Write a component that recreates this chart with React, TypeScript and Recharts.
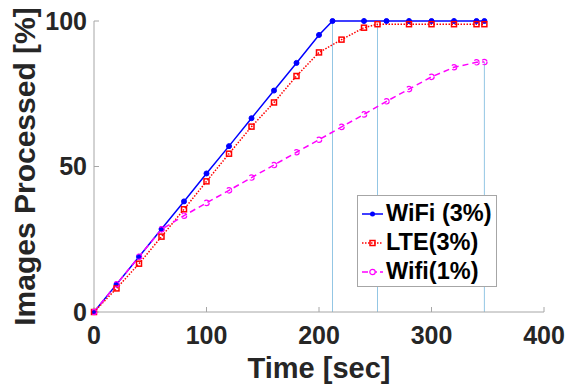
import React from 'react';
import { Legend, Line, LineChart, ReferenceLine, XAxis, YAxis } from 'recharts';

// time [sec] and share of images processed [%]
const wifi3Time = [0, 20, 40, 60, 80, 100, 120, 140, 160, 180, 200, 212, 240, 260, 280, 300, 320, 340, 347];
const wifi3Pct = [0, 9.5, 19, 28.5, 38, 47.6, 57, 66.6, 76.1, 85.6, 95.2, 100, 100, 100, 100, 100, 100, 100, 100];

const lte3Time = [0, 20, 40, 60, 80, 100, 120, 140, 160, 180, 200, 220, 240, 252, 280, 300, 320, 340, 347];
const lte3Pct = [0, 8.1, 16.6, 25.9, 35.3, 44.9, 54.4, 63.7, 72, 81.1, 89.2, 93.6, 97.7, 98.9, 98.9, 98.9, 98.9, 98.9, 98.9];

const wifi1Time = [0, 20, 40, 60, 80, 100, 120, 140, 160, 180, 200, 220, 240, 260, 280, 300, 320, 340, 347];
const wifi1Pct = [0, 9.5, 19, 28.4, 33.1, 37.5, 41.8, 46.2, 50.5, 54.9, 59.2, 63.6, 67.9, 72.4, 76.6, 80.8, 84.1, 85.8, 85.9];

// completion time of each run (drop lines to the axis)
const doneTime = [212, 252, 347];
const donePct = [100, 98.9, 85.9];

const xTicks = [0, 100, 200, 300, 400];
const yTicks = [0, 50, 100];
const seriesNames = ['WiFi (3%)', 'LTE(3%)', 'Wifi(1%)'];

const toRows = (ts: number[], vs: number[]) => ts.map((t, i) => ({ t, v: vs[i] }));
const wifi3 = toRows(wifi3Time, wifi3Pct);
const lte3 = toRows(lte3Time, lte3Pct);
const wifi1 = toRows(wifi1Time, wifi1Pct);

const FONT = '"Liberation Sans", Arial, Helvetica, sans-serif';
const INK = '#262626';
const AXIS = '#a6a6a6';
const DROP = '#93c6e4';

const BLUE = '#0000ff';
const RED = '#ff0000';
const MAGENTA = '#ff00ff';

const RedSquare = (p: any) => (
    <rect
        key={`sq-${p.index}`}
        x={p.cx - 2.5}
        y={p.cy - 2.5}
        width={5}
        height={5}
        fill="none"
        stroke={RED}
        strokeWidth={1.5}
    />
);

const legendIcons = [
    <g>
        <line x1={0} y1={6} x2={21} y2={6} stroke={BLUE} strokeWidth={1.5} />
        <circle cx={10.5} cy={6} r={2.5} fill={BLUE} />
    </g>,
    <g>
        <line x1={0} y1={6} x2={21} y2={6} stroke={RED} strokeWidth={1.5} strokeDasharray="1.5 1.5" />
        <rect x={8} y={3.5} width={5} height={5} fill="none" stroke={RED} strokeWidth={1.5} />
    </g>,
    <g>
        <line x1={0} y1={6} x2={21} y2={6} stroke={MAGENTA} strokeWidth={1.5} strokeDasharray="6 3" />
        <circle cx={10.5} cy={6} r={2.7} fill="#fff" stroke={MAGENTA} strokeWidth={1.2} />
    </g>,
];

const renderLegend = () => (
    <div
        style={{
            border: `1px solid ${AXIS}`,
            background: '#fff',
            padding: '3px 0 0 4px',
            boxSizing: 'border-box',
            width: 140,
            height: 92,
            fontFamily: FONT,
            fontWeight: 'bold',
            fontSize: 23.5,
            color: '#000',
        }}
    >
        {seriesNames.map((name, i) => (
            <div key={name} style={{ display: 'flex', alignItems: 'center', height: 29, whiteSpace: 'nowrap' }}>
                <svg width={23} height={12} style={{ marginRight: 1 }}>
                    {legendIcons[i]}
                </svg>
                <span>{name}</span>
            </div>
        ))}
    </div>
);

export default function App() {
    return (
        <div style={{ position: 'absolute', left: 0, top: 0, background: '#fff' }}>
            <LineChart width={567} height={385} margin={{ top: 21, right: 23, bottom: 0, left: 0 }}>
                <XAxis
                    dataKey="t"
                    type="number"
                    domain={[0, 400]}
                    ticks={xTicks}
                    stroke={AXIS}
                    tickSize={-5}
                    tickMargin={19}
                    height={73}
                    tick={{ fill: INK, fontSize: 25, fontWeight: 'bold', fontFamily: FONT }}
                    label={{
                        value: 'Time [sec]',
                        position: 'insideBottom',
                        offset: 7,
                        style: { fill: INK, fontSize: 29, fontWeight: 'bold', fontFamily: FONT },
                    }}
                />
                <YAxis
                    dataKey="v"
                    type="number"
                    domain={[0, 100]}
                    ticks={yTicks}
                    stroke={AXIS}
                    tickSize={-5}
                    tickMargin={12}
                    width={94}
                    tick={{ fill: INK, fontSize: 25, fontWeight: 'bold', fontFamily: FONT }}
                    label={{
                        value: 'Images Processed [%]',
                        angle: -90,
                        position: 'insideLeft',
                        offset: 24,
                        style: { fill: INK, fontSize: 30, fontWeight: 'bold', fontFamily: FONT, textAnchor: 'middle' },
                    }}
                />
                {doneTime.map((t, i) => (
                    <ReferenceLine
                        key={t}
                        segment={[
                            { x: t, y: 0 },
                            { x: t, y: donePct[i] },
                        ]}
                        stroke={DROP}
                        strokeWidth={1}
                    />
                ))}
                <Line
                    isAnimationActive={false}
                    type="linear"
                    data={wifi3}
                    dataKey="v"
                    name={seriesNames[0]}
                    stroke={BLUE}
                    strokeWidth={1.5}
                    dot={{ r: 2.5, fill: BLUE, stroke: BLUE, strokeWidth: 1 }}
                />
                <Line
                    isAnimationActive={false}
                    type="linear"
                    data={lte3}
                    dataKey="v"
                    name={seriesNames[1]}
                    stroke={RED}
                    strokeWidth={1.5}
                    strokeDasharray="1.5 1.5"
                    dot={RedSquare}
                />
                <Line
                    isAnimationActive={false}
                    type="linear"
                    data={wifi1}
                    dataKey="v"
                    name={seriesNames[2]}
                    stroke={MAGENTA}
                    strokeWidth={1.5}
                    strokeDasharray="6 4"
                    dot={{ r: 2.7, fill: 'none', stroke: MAGENTA, strokeWidth: 1.2 }}
                />
                <Legend
                    layout="vertical"
                    align="center"
                    verticalAlign="middle"
                    content={renderLegend}
                    wrapperStyle={{ left: 357, top: 195, width: 140, height: 92 }}
                />
            </LineChart>
        </div>
    );
}
